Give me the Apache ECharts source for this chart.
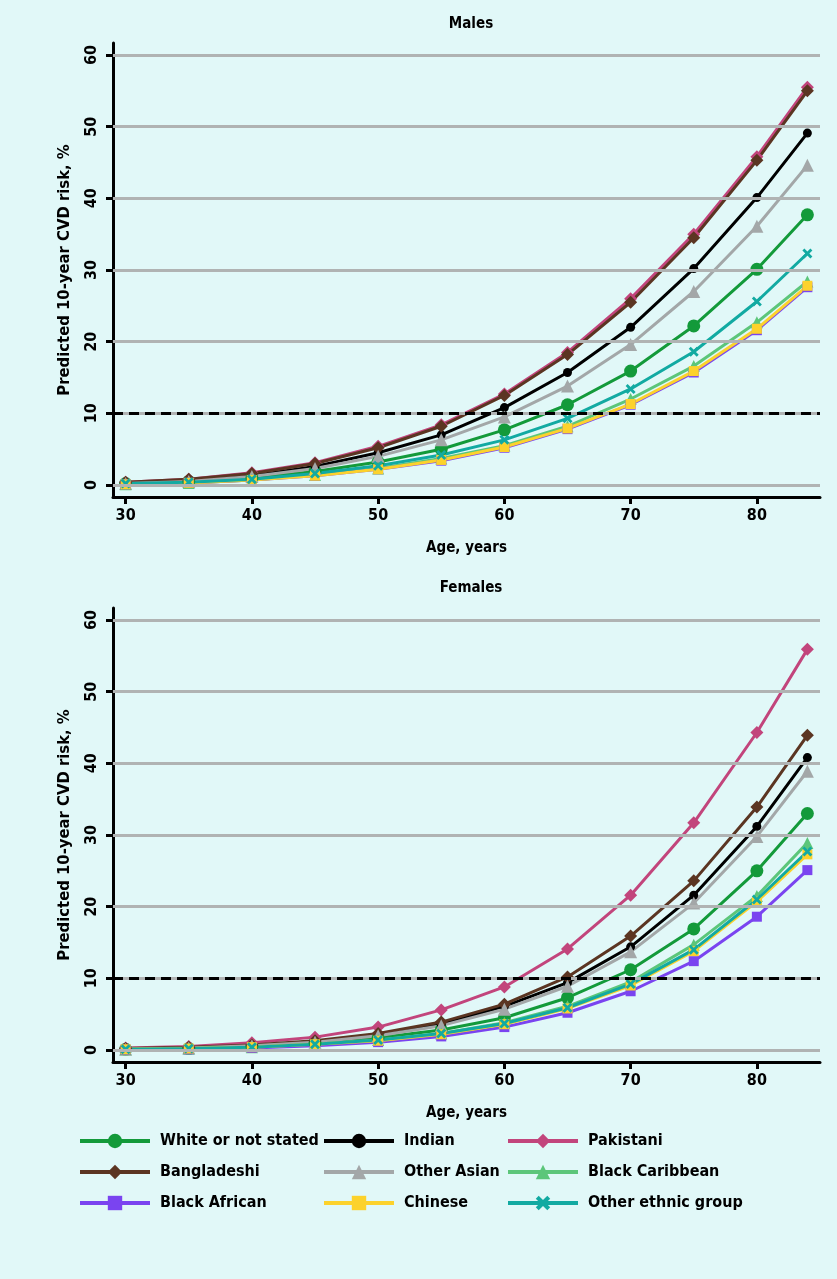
<!DOCTYPE html>
<html><head><meta charset="utf-8">
<script src="https://cdn.jsdelivr.net/npm/echarts@6/dist/echarts.min.js"></script>
<style>html,body{margin:0;padding:0;background:#e1f8f8;}#c{width:837px;height:1279px;}</style>
</head><body><div id="c"></div>
<script>
const ages = [30,35,40,45,50,55,60,65,70,75,80,84];
const groupNames = ['White or not stated','Indian','Pakistani','Bangladeshi','Other Asian','Black Caribbean','Black African','Chinese','Other ethnic group'];
const yTicks = [0,10,20,30,40,50,60];
const xTicks = [30,40,50,60,70,80];
const threshold = 10;

// Males
const mWhite      = [0.2,0.5,1.0,1.9,3.2,5.0,7.7,11.2,15.9,22.2,30.1,37.7];
const mIndian     = [0.2,0.6,1.3,2.6,4.5,7.0,10.8,15.7,22.0,30.2,40.1,49.1];
const mPakistani  = [0.4,0.8,1.7,3.1,5.4,8.4,12.7,18.5,26.0,35.0,45.8,55.5];
const mBangladeshi= [0.4,0.8,1.6,3.0,5.2,8.2,12.5,18.2,25.5,34.5,45.3,55.0];
const mOtherAsian = [0.2,0.5,1.2,2.3,4.0,6.3,9.5,13.8,19.6,27.0,36.1,44.6];
const mBlackCarib = [0.1,0.3,0.7,1.4,2.3,3.7,5.5,8.2,12.0,16.6,22.7,28.4];
const mBlackAfr   = [0.1,0.3,0.7,1.3,2.2,3.4,5.2,7.8,11.2,15.7,21.6,27.6];
const mChinese    = [0.1,0.3,0.7,1.3,2.2,3.5,5.3,7.9,11.3,15.9,21.8,27.8];
const mOtherEth   = [0.2,0.4,0.8,1.6,2.7,4.2,6.3,9.3,13.4,18.6,25.6,32.3];

// Females
const fWhite      = [0.1,0.2,0.5,1.0,1.7,2.8,4.5,7.3,11.2,16.9,25.0,33.0];
const fIndian     = [0.1,0.3,0.6,1.2,2.1,3.6,6.1,9.4,14.4,21.6,31.2,40.8];
const fPakistani  = [0.3,0.5,1.0,1.8,3.2,5.6,8.8,14.1,21.6,31.7,44.3,55.9];
const fBangladeshi= [0.2,0.4,0.7,1.3,2.3,3.9,6.4,10.2,15.9,23.6,33.9,43.9];
const fOtherAsian = [0.1,0.3,0.6,1.1,2.0,3.4,5.7,8.9,13.7,20.5,29.8,38.9];
const fBlackCarib = [0.1,0.2,0.4,0.8,1.4,2.3,3.8,6.1,9.5,14.7,21.5,28.9];
const fBlackAfr   = [0.05,0.1,0.3,0.6,1.1,1.9,3.2,5.2,8.2,12.4,18.6,25.1];
const fChinese    = [0.1,0.2,0.4,0.8,1.3,2.2,3.6,5.8,9.0,13.8,20.7,27.3];
const fOtherEth   = [0.1,0.2,0.4,0.8,1.4,2.3,3.7,5.9,9.2,14.0,21.0,27.7];

const malesData = [mWhite,mIndian,mPakistani,mBangladeshi,mOtherAsian,mBlackCarib,mBlackAfr,mChinese,mOtherEth];
const femalesData = [fWhite,fIndian,fPakistani,fBangladeshi,fOtherAsian,fBlackCarib,fBlackAfr,fChinese,fOtherEth];

const xPath = 'path://M0,2L2,0L5,3L8,0L10,2L7,5L10,8L8,10L5,7L2,10L0,8L3,5Z';
const styles = [
  {color:'#139a3a', symbol:'circle', size:13},
  {color:'#000000', symbol:'circle', size:9},
  {color:'#c2457c', symbol:'diamond', size:13},
  {color:'#5b3522', symbol:'diamond', size:13},
  {color:'#a3a7a8', symbol:'triangle', size:13},
  {color:'#5cc67a', symbol:'triangle', size:12},
  {color:'#7a44f0', symbol:'rect', size:10},
  {color:'#fcd22c', symbol:'rect', size:10},
  {color:'#12aaa2', symbol:xPath, size:10}
];

const FONT = "'DejaVu Sans Condensed','DejaVu Sans',sans-serif";
const txt = {fontFamily: FONT, fontWeight:'bold', color:'#000'};

function makeAxes(gi){
  const x = {
    type:'value', gridIndex:gi, min:29, max:85,
    name:'Age, years', nameLocation:'middle', nameGap:44,
    nameTextStyle:Object.assign({fontSize:15}, txt),
    axisLine:{show:true, onZero:false, lineStyle:{color:'#000', width:3}},
    axisTick:{show:true, length:7, lineStyle:{color:'#000', width:3}, customValues:xTicks},
    axisLabel:Object.assign({fontSize:16, margin:11, customValues:xTicks}, txt),
    splitLine:{show:false}
  };
  const y = {
    type:'value', gridIndex:gi, min:-1.67, max:61.67,
    name:'Predicted 10-year CVD risk, %', nameLocation:'middle', nameGap:40, nameRotate:90,
    nameTextStyle:Object.assign({fontSize:16.5}, txt),
    axisLine:{show:true, onZero:false, lineStyle:{color:'#000', width:3}},
    axisTick:{show:true, length:7, lineStyle:{color:'#000', width:3}, customValues:yTicks},
    axisLabel:Object.assign({fontSize:16, margin:13, rotate:90, customValues:yTicks}, txt),
    splitLine:{show:false}
  };
  return {x, y};
}

const a0 = makeAxes(0), a1 = makeAxes(1);
const series = [];
[malesData, femalesData].forEach((dataset, gi) => {
  series.push({
    type:'line', xAxisIndex:gi, yAxisIndex:gi, data:[], silent:true, z:1,
    markLine:{silent:true, symbol:'none', label:{show:false},
      lineStyle:{color:'#b0b3b3', width:3, type:'solid'},
      data: yTicks.map(v => ({yAxis:v}))
    }
  });
  series.push({
    type:'line', xAxisIndex:gi, yAxisIndex:gi, data:[], silent:true, z:2,
    markLine:{silent:true, symbol:'none', label:{show:false},
      lineStyle:{color:'#000', width:3, type:[10,6]},
      data:[{yAxis:threshold}]
    }
  });
  dataset.forEach((vals, i) => {
    const s = styles[i];
    series.push({
      name: groupNames[i], type:'line', xAxisIndex:gi, yAxisIndex:gi, z:3,
      data: ages.map((a,k)=>[a, vals[k]]),
      symbol: s.symbol, symbolSize: s.size, showAllSymbol:true,
      lineStyle:{color:s.color, width:3},
      itemStyle:{color:s.color},
      emphasis:{disabled:true}, animation:false
    });
  });
});

const legendCols = [
  {left:78, names:['White or not stated','Bangladeshi','Black African']},
  {left:322, names:['Indian','Other Asian','Chinese']},
  {left:506, names:['Pakistani','Black Caribbean','Other ethnic group']}
];

const option = {
  backgroundColor:'#e1f8f8',
  animation:false,
  title:[
    {text:'Males', left:466, top:12, textAlign:'center', textStyle:Object.assign({fontSize:15}, txt)},
    {text:'Females', left:466, top:576, textAlign:'center', textStyle:Object.assign({fontSize:15}, txt)}
  ],
  grid:[
    {left:113, right:17, top:43, height:454},
    {left:113, right:17, top:608, height:454}
  ],
  xAxis:[a0.x, a1.x],
  yAxis:[a0.y, a1.y],
  legend: legendCols.map(c => ({
    orient:'vertical', left:c.left, top:1132, itemGap:13, itemWidth:70, itemHeight:18,
    data:c.names, selectedMode:false, padding:0,
    lineStyle:{width:4},
    textStyle:Object.assign({fontSize:16, lineHeight:18, padding:[0,0,0,5]}, txt)
  })),
  series
};
const chart = echarts.init(document.getElementById('c'), null, {renderer:'canvas'});
chart.setOption(option);
</script></body></html>
